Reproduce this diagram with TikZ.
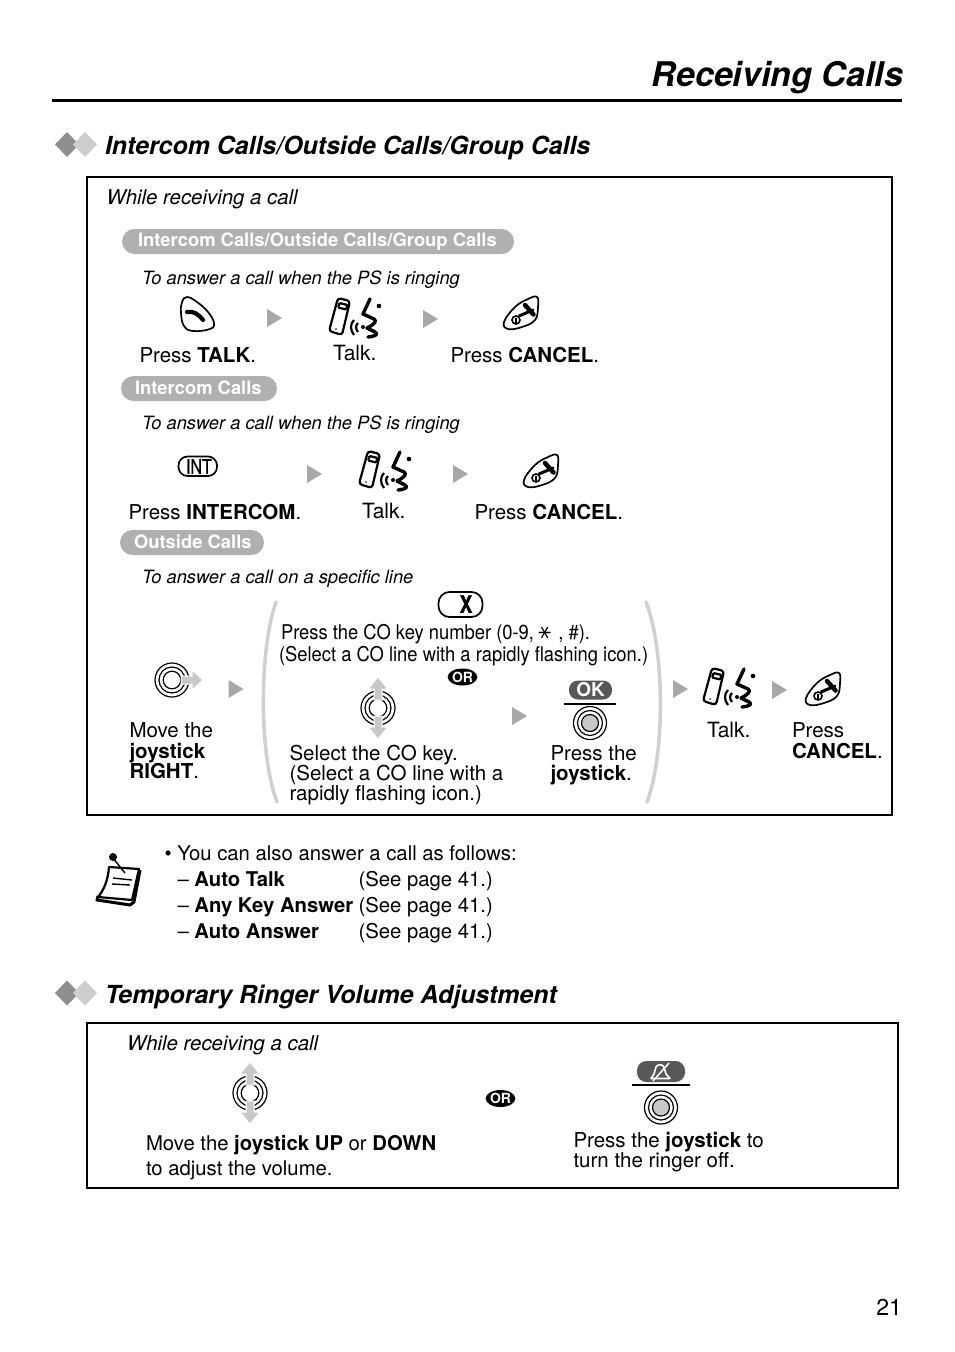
\documentclass[tikz,border=0pt]{standalone}
\usepackage{fontspec}
\setmainfont{TeX Gyre Heros}
\newfontfamily\condfont[FakeStretch=0.905]{TeX Gyre Heros}
\newfontfamily\narrowfont[FakeStretch=0.8,FakeBold=0.6]{TeX Gyre Heros}
\newfontfamily\symfont{DejaVu Sans}
\usetikzlibrary{shapes.geometric}
\definecolor{tri}{HTML}{A8A8A8}
\definecolor{pillgray}{HTML}{B0B0B0}
\definecolor{parengray}{HTML}{D0D0D0}
\definecolor{joyarrow}{HTML}{C8C8C8}
\definecolor{darkpill}{HTML}{585858}
\definecolor{diadark}{HTML}{8E8E8E}
\definecolor{dialight}{HTML}{CDCDCD}
\tikzset{
  txt/.style={anchor=base west,inner sep=0,outer sep=0,font=\fontsize{20.5}{24}\selectfont,align=left},
  notetxt/.style={txt,font=\fontsize{20.3}{24}\selectfont},
  talktxt/.style={txt,font=\fontsize{21}{24}\selectfont},
  ital/.style={txt,font=\fontsize{20.4}{24}\selectfont\itshape},
  sub/.style={txt,font=\fontsize{18.3}{22}\selectfont\itshape},
  cond/.style={txt,font=\fontsize{20.3}{24}\selectfont\condfont},
  head/.style={txt,font=\fontsize{24.9}{30}\selectfont\bfseries\itshape},
  pilltxt/.style={txt,text=white,font=\fontsize{18.4}{22}\selectfont\bfseries},
  pillshape/.style={fill=pillgray,rounded corners=12.5pt},
  orkey/.style={ellipse,fill=black,text=white,inner sep=0,minimum width=29pt,minimum height=17pt,font=\fontsize{14}{14}\selectfont\bfseries},
  triangle/.pic={\fill[tri] (-7.5,-9)--(7.5,0)--(-7.5,9)--cycle;},
  diamonds/.pic={
    \fill[diadark] (-21,0)--(-9,-12.5)--(3,0)--(-9,12.5)--cycle;
    \fill[dialight] (-3,0)--(9,-12.5)--(21,0)--(9,12.5)--cycle;},
  talkkey/.pic={
    \draw[line width=1.7pt] plot[smooth cycle,tension=.7] coordinates {(-16,-13)(-11,-18)(-1,-13)(10,-3)(16,8)(12,14)(-5,16)(-14,11)(-17,-2)};
    \draw[line width=4.2pt,line cap=round] (-11,-3) .. controls (-4,-4) and (0,-1) .. (5,5);},
  cancelkey/.pic={
    \draw[line width=1.7pt] plot[smooth cycle,tension=.7] coordinates {(16,-17)(17,-7)(14,6)(1,13)(-13,15)(-17,8)(-6,-7)(7,-15)};
    \draw[line width=3pt,line cap=round] (-2,2) -- (12,-4);
    \draw[line width=4.5pt,line cap=round] (4,-9) -- (12.5,0.5);
    \draw[line width=1.6pt] (-5,6) circle (4);
    \draw[line width=1.4pt] (-5,3.5) -- (-5,8.5);},
  talkman/.pic={
    \draw[line width=2.2pt,rounded corners=3pt] (-17,-22)--(-5,-19)--(-13,15)--(-26,11)--cycle;
    \draw[line width=2.2pt,rounded corners=1pt] (-15.5,-17)--(-7.5,-15)--(-8.8,-10.5)--(-16.8,-12.5)--cycle;
    \fill (-19,9) circle (0.9);
    \draw[line width=2.2pt] (-1,0) .. controls (-5,4) and (-5,10) .. (-1,15);
    \draw[line width=2.2pt] (3,3) .. controls (0.5,5) and (0.5,9) .. (3,12);
    \fill (8,7) circle (2);
    \draw[line width=3.4pt,line cap=round,line join=round] (15,-21) -- (8,-6) -- (19,-1) .. controls (22,1) and (20,4) .. (12,8) -- (20,12) .. controls (23,14) and (22,16) .. (13,17);
    \fill (24,-14) circle (2.3);},
  joyrings/.pic={
    \draw[line width=1.2pt] (0,0) circle (17) (0,0) circle (13) (0,0) circle (8.8);},
  joypress/.pic={
    \draw[line width=1.2pt] (0,0) circle (16.5) (0,0) circle (12.5);
    \draw[line width=1.2pt,fill=joyarrow] (0,0) circle (8.5);},
  joyup/.pic={
    \draw[white,line width=1pt,fill=joyarrow,line join=miter] (-4,-8)--(-4,-19)--(-10,-19)--(0,-31)--(10,-19)--(4,-19)--(4,-8)--cycle;},
  joydown/.pic={
    \draw[white,line width=1pt,fill=joyarrow,line join=miter] (-4,8)--(-4,19)--(-10,19)--(0,31)--(10,19)--(4,19)--(4,8)--cycle;},
  joyright/.pic={
    \draw[white,line width=1pt,fill=joyarrow,line join=miter] (9,-4)--(20,-4)--(20,-10)--(31,0)--(20,10)--(20,4)--(9,4)--cycle;},
}
\newcommand{\bc}[1]{\textbf{#1}}
\begin{document}
\begin{tikzpicture}[x=1pt,y=-1pt]
\useasboundingbox (0,0) rectangle (954,1352);
\fill[white] (0,0) rectangle (954,1352);
% header
\node[txt,anchor=base east,font=\fontsize{34}{38}\selectfont\bfseries\itshape] (title) at (903,86.5) {Receiving Calls};
\fill (52,98.5) rectangle (902,101.5);
\pic at (76,144.5) {diamonds};
\node[head] (h1) at (105,154) {Intercom Calls/Outside Calls/Group Calls};
% box 1
\draw[line width=2pt] (87,177) rectangle (892,815);
\node[ital] (w1) at (106.5,204) {While receiving a call};
% section: all
\fill[pillshape] (122,229) rectangle (514,254);
\node[pilltxt] (p1) at (138,246) {Intercom Calls/Outside Calls/Group Calls};
\node[sub] (s1) at (142,284) {To answer a call when the PS is ringing};
\pic at (198,315) {talkkey};
\pic at (274.5,318) {triangle};
\pic at (355,320) {talkman};
\pic at (430.5,319) {triangle};
\pic at (521,314) {cancelkey};
\node[txt] (t1a) at (139.5,362) {Press \bc{TALK}.};
\node[talktxt] (t1b) at (333,360) {Talk.};
\node[txt] (t1c) at (450.5,362) {Press \bc{CANCEL}.};
% section: intercom
\fill[pillshape] (121,376) rectangle (277,401);
\node[pilltxt] (p2) at (135,394) {Intercom Calls};
\node[sub] (s2) at (142,429) {To answer a call when the PS is ringing};
\draw[line width=1.7pt,rounded corners=9pt] (178.5,456.5) rectangle (217,476);
\node[anchor=center,inner sep=0,font=\fontsize{20}{20}\selectfont\narrowfont] (int) at (199,466.5) {INT};
\pic at (314.5,474) {triangle};
\pic at (385,473) {talkman};
\pic at (460.5,474) {triangle};
\pic at (541,472) {cancelkey};
\node[txt] (t2a) at (128.5,519) {Press \bc{INTERCOM}.};
\node[talktxt] (t2b) at (362,518) {Talk.};
\node[txt] (t2c) at (474.5,519) {Press \bc{CANCEL}.};
% section: outside
\fill[pillshape] (120,530) rectangle (264,555);
\node[pilltxt] (p3) at (134,548) {Outside Calls};
\node[sub] (s3) at (142,583) {To answer a call on a specific line};
\pic at (172,680) {joyrings};
\pic at (172,680) {joyright};
\pic at (236,689) {triangle};
\node[txt] (t3a) at (129.5,737) {Move the};
\node[txt] (t3b) at (129.5,758) {\bc{joystick}};
\node[txt] (t3c) at (129.5,778) {\bc{RIGHT}.};
\draw[parengray,line width=3.5pt,line cap=round] (276,602) .. controls (259,650) and (259,755) .. (277,802);
\draw[parengray,line width=3.5pt,line cap=round] (646,602) .. controls (665,650) and (665,755) .. (647,802);
\draw[line width=1.7pt,rounded corners=11pt] (438.5,592) rectangle (482.5,617);
\node[anchor=center,inner sep=0,font=\fontsize{24}{24}\selectfont\bfseries\narrowfont] (xkey) at (466,604) {X};
\node[cond] (c1) at (281,639) {Press the CO key number (0-9, \raisebox{-4pt}{\rotatebox[origin=c]{90}{\symfont\fontsize{26}{26}\selectfont *}}, \#).};
\node[cond] (c2) at (279,661) {(Select a CO line with a rapidly flashing icon.)};
\node[orkey] (or1) at (462.5,677) {OR};
\pic at (378,708) {joyrings};
\pic at (378,708) {joyup};
\pic at (378,708) {joydown};
\node[txt] (t4a) at (289.5,760) {Select the CO key.};
\node[txt] (t4b) at (289.5,780) {(Select a CO line with a};
\node[txt] (t4c) at (289.5,800) {rapidly flashing icon.)};
\pic at (519.5,716) {triangle};
\node[anchor=center,fill=darkpill,text=white,rounded corners=9pt,minimum width=43pt,minimum height=19pt,inner sep=0,font=\fontsize{19}{19}\selectfont\bfseries] (ok) at (590.5,690) {OK};
\fill (564,702.5) rectangle (616,704.5);
\pic at (590,723) {joypress};
\node[txt] (t5a) at (550.5,760) {Press the};
\node[txt] (t5b) at (550.5,780) {\bc{joystick}.};
\pic at (680.5,689) {triangle};
\pic at (729,690) {talkman};
\pic at (779.5,690) {triangle};
\pic at (823,690) {cancelkey};
\node[talktxt] (t6a) at (707,737) {Talk.};
\node[txt] (t6b) at (792,737) {Press};
\node[txt] (t6c) at (792,758) {\bc{CANCEL}.};
% note
\draw[line width=3pt,line join=round] (98,896) -- (97,900) -- (130,905) -- (134,902) -- (140,870);
\draw[line width=2.2pt,line join=round,fill=white] (109,867) -- (139,869) -- (132,900) -- (98,897) .. controls (104,890) and (108,880) .. (109,867) -- cycle;
\draw[line width=1.4pt] (113,878) -- (132,880) (112,884) -- (130,885);
\draw[line width=1.4pt] (113,858) -- (125,873);
\fill (113,857) circle (4);
\node[notetxt] (n0) at (164.5,860) {• You can also answer a call as follows:};
\node[notetxt] (n1) at (177.5,886) {– \bc{Auto Talk}};
\node[notetxt] (n2) at (177.5,912) {– \bc{Any Key Answer}};
\node[notetxt] (n3) at (177.5,938) {– \bc{Auto Answer}};
\node[notetxt] (n1p) at (358.5,886) {(See page 41.)};
\node[notetxt] (n2p) at (358.5,912) {(See page 41.)};
\node[notetxt] (n3p) at (358.5,938) {(See page 41.)};
% section 2
\pic at (76,993) {diamonds};
\node[head] (h2) at (105,1003) {Temporary Ringer Volume Adjustment};
\draw[line width=2pt] (87,1023) rectangle (898,1188);
\node[ital] (w2) at (127,1050) {While receiving a call};
\pic at (250,1093) {joyrings};
\pic at (250,1093) {joyup};
\pic at (250,1093) {joydown};
\node[notetxt] (m1) at (146,1150) {Move the \bc{joystick UP} or \bc{DOWN}};
\node[notetxt] (m2) at (146,1175) {to adjust the volume.};
\node[orkey] (or2) at (500.5,1098.5) {OR};
\fill[darkpill,rounded corners=9.5pt] (637,1061) rectangle (685,1082);
\draw[white,line width=1.6pt,line join=round] (651,1078.5) -- (654,1074) -- (656,1067) .. controls (657,1064) and (663,1064) .. (664,1067) -- (666,1074) -- (670,1078.5) -- cycle;
\draw[white,line width=1.5pt] (653,1081) -- (669,1063);
\fill (632,1084) rectangle (690,1086);
\pic at (661,1107.5) {joypress};
\node[txt] (r1) at (573.5,1147) {Press the \bc{joystick} to};
\node[txt] (r2) at (573.5,1167) {turn the ringer off.};
\node[txt,anchor=base east,font=\fontsize{23}{26}\selectfont] (pg) at (902,1315) {21};
\end{tikzpicture}
\end{document}
